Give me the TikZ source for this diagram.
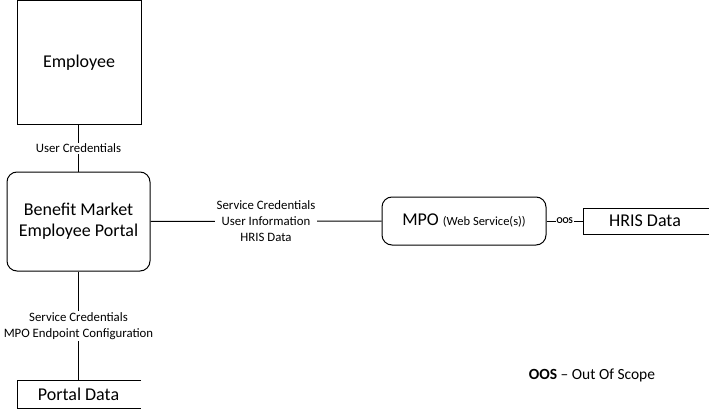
\documentclass[tikz,border=0pt]{standalone}
\usepackage{fontspec}
\setmainfont{Carlito}
\begin{document}
\begin{tikzpicture}[x=1pt,y=-1pt,line width=1pt,
  boxbig/.style={draw,inner sep=0pt,font=\fontsize{18}{21}\selectfont,align=center},
  rbox/.style={boxbig,rounded corners=10pt},
  lbl/.style={fill=white,inner sep=1.5pt,font=\fontsize{12.8}{16}\selectfont,align=center},
  datatxt/.style={inner sep=0pt,font=\fontsize{18}{21}\selectfont}]
\useasboundingbox (0,0) rectangle (709,409);
\node[boxbig,minimum width=124pt,minimum height=124.5pt] (emp) at (79,62.75) {Employee};
\node[rbox,minimum width=143pt,minimum height=99pt] (bmep) at (78.5,221.5) {Benefit Market\\Employee Portal};
\node[rbox,minimum width=164pt,minimum height=48pt] (mpo) at (464,221) {MPO {\fontsize{12.5}{15}\selectfont(Web Service(s))}};
% HRIS data store
\draw (709,208) -- (583,208) -- (583,234) -- (709,234);
\coordinate (hrisL) at (583,221);
\node[datatxt] (hris) at (645,221) {HRIS Data};
% Portal data store
\draw (141,380) -- (17,380) -- (17,408) -- (141,408);
\coordinate (portT) at (78.5,380);
\node[datatxt] (port) at (78.5,394) {Portal Data};
% connectors
\draw (emp.south -| bmep.north) -- node[lbl] (l1) {User Credentials} (bmep.north);
\draw (bmep.east) -- node[lbl] (l2) {Service Credentials\\User Information\\HRIS Data} (mpo.west);
\draw (bmep.south) -- node[lbl] (l3) {Service Credentials\\MPO Endpoint Configuration} (portT);
\draw (mpo.east) -- node[fill=white,inner sep=1pt,font=\fontsize{9}{10}\selectfont\bfseries] (l4) {OOS} (hrisL);
% legend
\node[font=\fontsize{15.5}{18}\selectfont] (legend) at (592,375) {\textbf{OOS} -- Out Of Scope};
\end{tikzpicture}
\end{document}
